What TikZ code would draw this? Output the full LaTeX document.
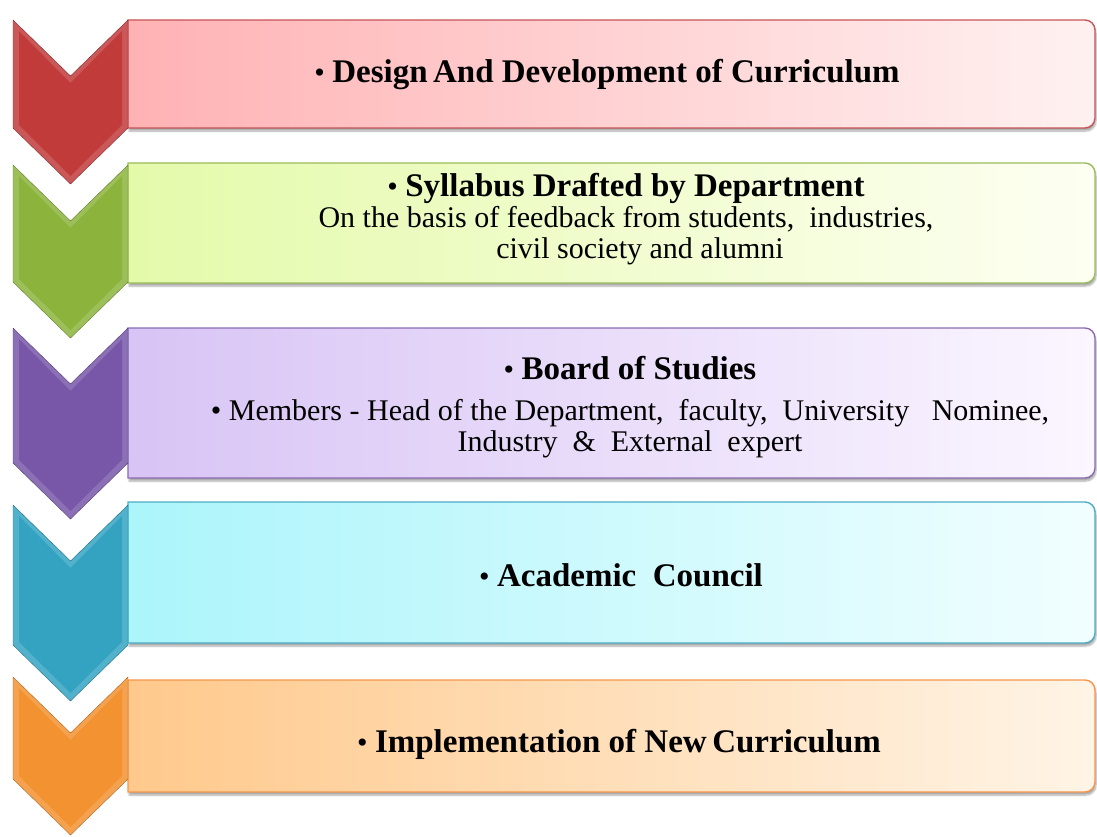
\documentclass[tikz,border=0pt]{standalone}
\usepackage{fontspec}
\setmainfont{Liberation Serif}
\usetikzlibrary{shadows.blur}

\definecolor{chRed}{HTML}{C23B3B}
\definecolor{chGreen}{HTML}{8CB43C}
\definecolor{chPurple}{HTML}{7857A8}
\definecolor{chTeal}{HTML}{34A3C2}
\definecolor{chOrange}{HTML}{F39231}

\newcommand\headtxt[1]{{\fontsize{33}{31}\selectfont\bfseries #1}}

\begin{document}
\begin{tikzpicture}[x=1pt,y=-1pt,
    chev/.style={draw=#1!70!black,fill=#1!85!white,line join=round,thin},
    bevel/.style={fill=#1,draw=none},
    card/.style n args={3}{draw=#1,line width=1.4pt,left color=#2,right color=#3,
        blur shadow={shadow xshift=1pt,shadow yshift=-3pt,shadow blur steps=6,shadow opacity=35}},
    txt/.style={font=\fontsize{30}{31}\selectfont,align=center},
]
\useasboundingbox (0,0) rectangle (1097,837);

% boxes: top, bottom, border, left, right
\foreach \ya/\yb/\bd/\lf/\rt in {
    20/128/C75458/FFB2B4/FFF1F1,
    163/283/9BBB59/E4FAAA/FDFFF2,
    328/478/8A6BB0/D8C4F5/FBF6FF,
    502/643/4BACC6/ABF5FB/F1FEFF,
    680/792/F5964A/FFC98C/FFF4E6}{
  \definecolor{bd}{HTML}{\bd}\definecolor{lf}{HTML}{\lf}\definecolor{rt}{HTML}{\rt}
  \path[card={bd}{lf}{rt}] (600,\ya) [rounded corners=10pt] -- (1095,\ya) -- (1095,\yb) -- (600,\yb)
      [sharp corners] -- (128,\yb) -- (128,\ya) -- cycle;
}

% chevrons: top, side bottom, colour
\foreach \ya/\yb/\c in {20/128/chRed,165/282/chGreen,328/463/chPurple,505/645/chTeal,677/779/chOrange}{
  \draw[chev=\c] (13,\ya) -- (70.5,\ya+56) -- (128,\ya) -- (128,\yb) -- (70.5,\yb+56) -- (13,\yb) -- cycle;
  \fill[bevel=\c] (19,\ya+11) -- (70.5,\ya+63) -- (122,\ya+11) -- (122,\yb-3) -- (70.5,\yb+48) -- (19,\yb-3) -- cycle;
}

\node[txt] (design) at (607,75) {\textbullet\ \headtxt{Design\,And Development of Curriculum}};
\node[txt] (syllabus) at (626,219) {\textbullet\ \headtxt{Syllabus Drafted by Department}\\
    On the basis of feedback from students,\ \ industries,\\ \hspace*{28pt}civil society and alumni};
\node[txt] (board) at (630,407) {\textbullet\ \headtxt{Board of Studies}\\[10pt]
    \textbullet\ Members - Head of the Department,\ \ faculty,\ \ University\ \ \ Nominee,\\
    Industry\ \ \&\ \ External\ \ expert};
\node[txt] (council) at (621,575) {\textbullet\ \headtxt{Academic\ \ Council}};
\node[txt] (implement) at (619,744) {\textbullet\ \headtxt{Implementation of New\,Curriculum}};

\end{tikzpicture}
\end{document}
